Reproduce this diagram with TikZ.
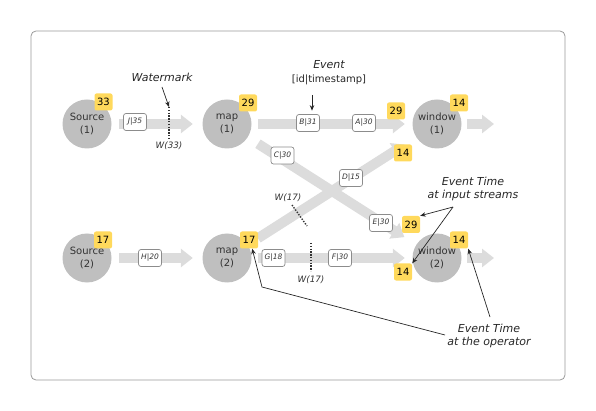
\documentclass[tikz,border=0pt]{standalone}
\usepackage{fontspec}
\setmainfont{DejaVu Sans}
\usetikzlibrary{arrows.meta}
\definecolor{circ}{HTML}{BFBFBF}
\definecolor{flowc}{HTML}{DCDCDC}
\definecolor{badgec}{HTML}{FFD95C}
\definecolor{txt}{HTML}{333333}
\definecolor{framec}{HTML}{9A9A9A}
\definecolor{evb}{HTML}{8C8C8C}
\begin{document}
\begin{tikzpicture}[x=1pt,y=-1pt,
 op/.style={circle,fill=circ,minimum size=49pt,inner sep=0pt,align=center,font=\fontsize{10}{13}\selectfont,text=txt},
 bdg/.style={rounded corners=2pt,fill=badgec,minimum width=18pt,minimum height=17pt,inner sep=0pt,font=\fontsize{10}{12}\selectfont,text=black},
 evbox/.style={draw=evb,rounded corners=2.5pt,fill=white,minimum width=23pt,minimum height=17pt,inner sep=1pt,font=\fontsize{7.5}{9}\selectfont\itshape,text=txt,line width=0.7pt},
 flow/.style={draw=flowc,line width=10pt,-{Triangle[length=12pt,width=18pt]}},
 ann/.style={font=\fontsize{11}{13}\selectfont\itshape,text=black!85,align=center,inner sep=0pt},
 wmtext/.style={font=\fontsize{8.8}{10}\selectfont\itshape,text=txt,inner sep=0pt},
 dotl/.style={line width=1.4pt,dash pattern=on 1.4pt off 1.4pt,black!80},
 aarr/.style={draw=black!85,line width=0.7pt,-{Stealth[length=5.5pt,width=4.5pt]}}
]
\useasboundingbox (0,0) rectangle (596,411);
\draw[framec,line width=0.8pt,rounded corners=5pt] (31,31) rectangle (565,380);

% operators
\node[op] (src1) at (87,124) {Source\\(1)};
\node[op] (map1) at (227,124) {map\\(1)};
\node[op] (win1) at (437,124) {window\\(1)};
\node[op] (src2) at (87,258) {Source\\(2)};
\node[op] (map2) at (227,258) {map\\(2)};
\node[op] (win2) at (437,258) {window\\(2)};
\coordinate (out1) at (494,124);
\coordinate (out2) at (494,258);

% flows
\draw[flow,shorten <=7.5pt,shorten >=9.5pt] (src1) -- (map1);
\draw[flow,shorten <=7.5pt,shorten >=9.5pt] (src2) -- (map2);
\draw[flow,shorten <=6.5pt,shorten >=7.5pt] (map1) -- (win1);
\draw[flow,shorten <=6.5pt,shorten >=7.5pt] (map2) -- (win2);
\draw[flow,shorten <=12pt,shorten >=14pt] (map1) -- (win2);
\draw[flow,shorten <=12pt,shorten >=13.5pt] (map2) -- (win1);
\draw[flow,shorten <=5.5pt] (win1) -- (out1);
\draw[flow,shorten <=5.5pt] (win2) -- (out2);

% events
\node[evbox] (J35) at (135,122) {J|35};
\node[evbox] (B31) at (308,123) {B|31};
\node[evbox] (A30) at (364,123) {A|30};
\node[evbox] (C30) at (282.5,155.5) {C|30};
\node[evbox] (D15) at (351,178) {D|15};
\node[evbox] (E30) at (381,223) {E|30};
\node[evbox] (H20) at (150,258) {H|20};
\node[evbox] (G18) at (273.5,258) {G|18};
\node[evbox] (F30) at (340,258) {F|30};

% watermarks
\coordinate (wmAt) at (169,107);
\coordinate (wmAb) at (169,140);
\draw[dotl] (wmAt) -- (wmAb);
\node[wmtext] (wA) at (169,146) {W(33)};
\coordinate (wmBt) at (292,205);
\coordinate (wmBb) at (307,226);
\draw[dotl] (wmBt) -- (wmBb);
\node[wmtext] (wB) at (288,198) {W(17)};
\coordinate (wmCt) at (311,243);
\coordinate (wmCb) at (311,271);
\draw[dotl] (wmCt) -- (wmCb);
\node[wmtext] (wC) at (311,280) {W(17)};

% badges
\node[bdg] (b33) at (103.5,102) {33};
\node[bdg] (b29a) at (248,103) {29};
\node[bdg] (b29w) at (396,111) {29};
\node[bdg] (b14w1) at (459,103) {14};
\node[bdg] (b14d) at (403,153) {14};
\node[bdg] (b17s) at (103,240) {17};
\node[bdg] (b17m) at (249,240) {17};
\node[bdg] (b29e) at (411,224.5) {29};
\node[bdg] (b14w2) at (459,240) {14};
\node[bdg] (b14f) at (403,272) {14};

% annotations
\node[ann] (wmt) at (162,77) {Watermark};
\coordinate (wma) at (162,87);
\draw[aarr] (wma) -- (wmAt);

\node[ann] (evt) at (329,65) {Event};
\node[font=\fontsize{10}{12}\selectfont,text=black!85,inner sep=0pt] (evt2) at (329,80) {[id|timestamp]};
\coordinate (eva) at (312,95);
\draw[aarr,shorten >=3.5pt] (eva) -- (B31.north -| eva);

\node[ann] (ist) at (473,188.5) {Event Time\\at input streams};
\coordinate (isa) at (453,207);
\draw[aarr] (isa) -- (b29e.north east);
\draw[aarr] (isa) -- (b14f.north east);

\node[ann] (opt) at (489,336) {Event Time\\at the operator};
\coordinate (opa) at (490,317);
\draw[aarr] (opa) -- (b14w2.south east);
\coordinate (opb) at (445,335);
\coordinate (opc) at (262,287);
\draw[aarr] (opb) -- (opc) -- (b17m.-70);
\end{tikzpicture}
\end{document}
